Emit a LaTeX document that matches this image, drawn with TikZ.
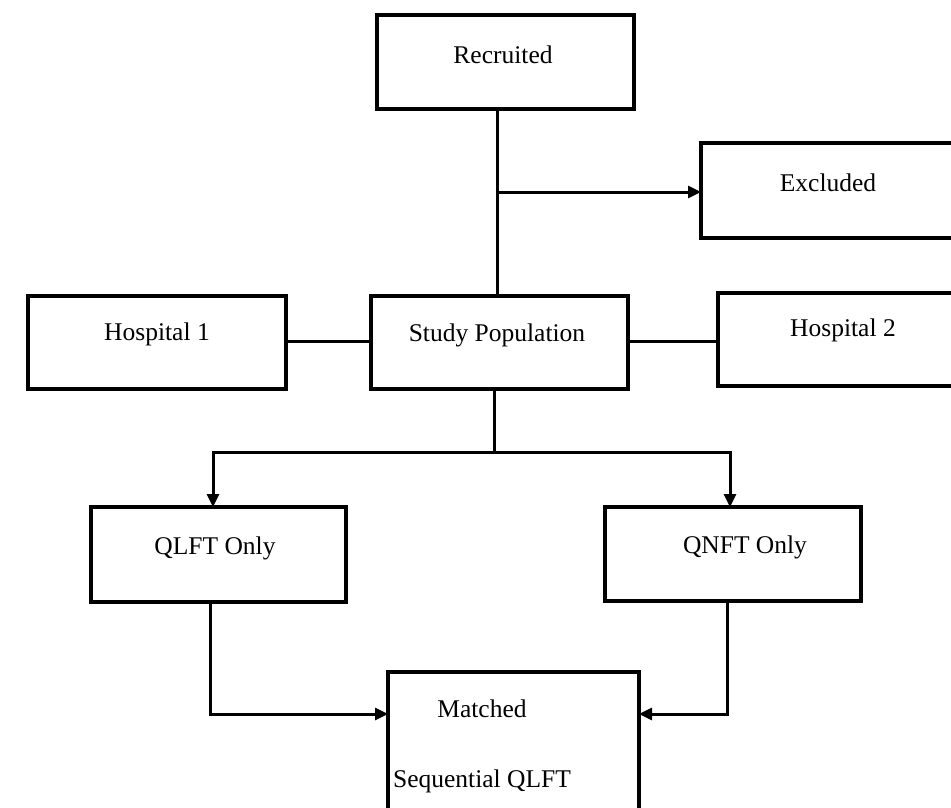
\documentclass[tikz,border=0pt]{standalone}
\usepackage{fontspec}
\setmainfont{Liberation Serif}
\usetikzlibrary{arrows.meta}
\begin{document}
\begin{tikzpicture}[x=1pt,y=-1pt,
  box/.style={draw=black,line width=4.5pt,fill=white},
  lbl/.style={inner sep=0pt,font=\fontsize{25.5}{30}\selectfont},
  conn/.style={line width=3pt},
  arr/.style={line width=3pt,-{Triangle[length=13pt,width=12pt]}}]
\useasboundingbox (0,0) rectangle (951,808);
\clip (0,0) rectangle (951,808);
\fill[white] (0,0) rectangle (951,808);
% boxes
\draw[box] (377,15) rectangle (634,109);
\coordinate (recS) at (497,109);
\draw[box] (701,143) rectangle (970,238);
\coordinate (excW) at (701,192);
\draw[box] (28,296) rectangle (286,389);
\coordinate (h1E) at (286,341);
\draw[box] (371,296) rectangle (628,389);
\coordinate (spN) at (497,296);
\coordinate (spW) at (371,341);
\coordinate (spE) at (628,341);
\coordinate (spS) at (494,389);
\draw[box] (718,293) rectangle (970,386);
\coordinate (h2W) at (718,341);
\draw[box] (91,507) rectangle (346,602);
\coordinate (qlN) at (213,507);
\coordinate (qlS) at (210,602);
\draw[box] (605,507) rectangle (861,601);
\coordinate (qnN) at (730,507);
\coordinate (qnS) at (727,601);
\draw[box] (388,672) rectangle (639,830);
\coordinate (maW) at (388,714);
\coordinate (maE) at (639,714);
% labels
\node[lbl] (trec) at (503,55) {Recruited};
\node[lbl] (texc) at (828,183) {Excluded};
\node[lbl] (th1) at (157,334) {Hospital 1};
\node[lbl] (tsp) at (497,335) {Study Population};
\node[lbl] (th2) at (843,330) {Hospital 2};
\node[lbl] (tql) at (215,548) {QLFT Only};
\node[lbl] (tqn) at (745,547) {QNFT Only};
\node[lbl] (tma) at (482,709) {Matched};
\node[lbl] (tsq) at (482,781) {Sequential QLFT};
% connectors
\coordinate (br1) at (497,192);
\draw[conn] (recS) -- (spN);
\draw[arr] (br1) -- (excW);
\draw[conn] (h1E) -- (spW);
\draw[conn] (spE) -- (h2W);
\coordinate (sp2) at (494,452);
\coordinate (lft) at (213,452);
\coordinate (rgt) at (730,452);
\draw[conn] (spS) -- (sp2);
\draw[arr] (sp2) -- (lft) -- (qlN);
\draw[arr] (sp2) -- (rgt) -- (qnN);
\draw[arr] (qlS) -- (qlS |- maW) -- (maW);
\draw[arr] (qnS) -- (qnS |- maE) -- (maE);
\end{tikzpicture}
\end{document}
